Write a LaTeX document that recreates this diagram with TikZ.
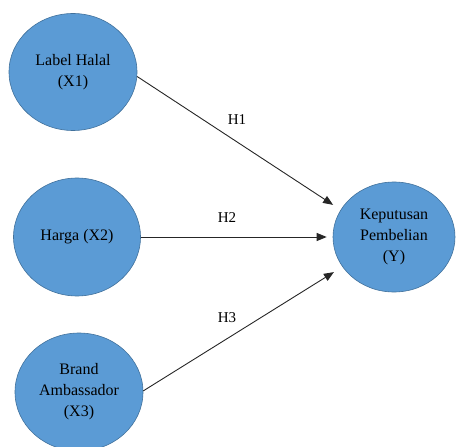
\documentclass[tikz,border=0pt]{standalone}
\usepackage{fontspec}
\setmainfont{Liberation Serif}
\usetikzlibrary{shapes.geometric,arrows.meta}
\definecolor{nodefill}{HTML}{5B9BD5}
\definecolor{nodeline}{HTML}{41719C}
\begin{document}
\begin{tikzpicture}[x=1bp,y=-1bp,
  var/.style={ellipse, fill=nodefill, draw=nodeline, line width=0.6bp, inner sep=0pt,
    align=center, text=black, font=\fontsize{16bp}{21bp}\selectfont},
  link/.style={draw=black!85, line width=0.9bp, -{Triangle[length=10bp,width=8bp]}},
  hyp/.style={font=\fontsize{15bp}{18bp}\selectfont, inner sep=0pt, text=black}]
\useasboundingbox (0,0) rectangle (456,447);
\clip (0,0) rectangle (456,447);
\node[var, minimum width=128bp, minimum height=117bp] (x1) at (73,72) {Label Halal\\(X1)};
\node[var, minimum width=127bp, minimum height=118bp] (x2) at (77,237) {Harga (X2)};
\node[var, minimum width=128bp, minimum height=118bp] (x3) at (79,392) {Brand\\Ambassador\\(X3)};
\node[var, minimum width=122bp, minimum height=110bp] (y) at (394,237) {Keputusan\\Pembelian\\(Y)};
\draw[link, shorten >=9bp] (x1.-4) -- (y.153);
\draw[link, shorten >=6bp] (x2) -- (y);
\draw[link, shorten >=10bp] (x3.1) -- (y.-150);
\node[hyp] (h1) at (237,120) {H1};
\node[hyp] (h2) at (227,218) {H2};
\node[hyp] (h3) at (227,318) {H3};
\end{tikzpicture}
\end{document}
